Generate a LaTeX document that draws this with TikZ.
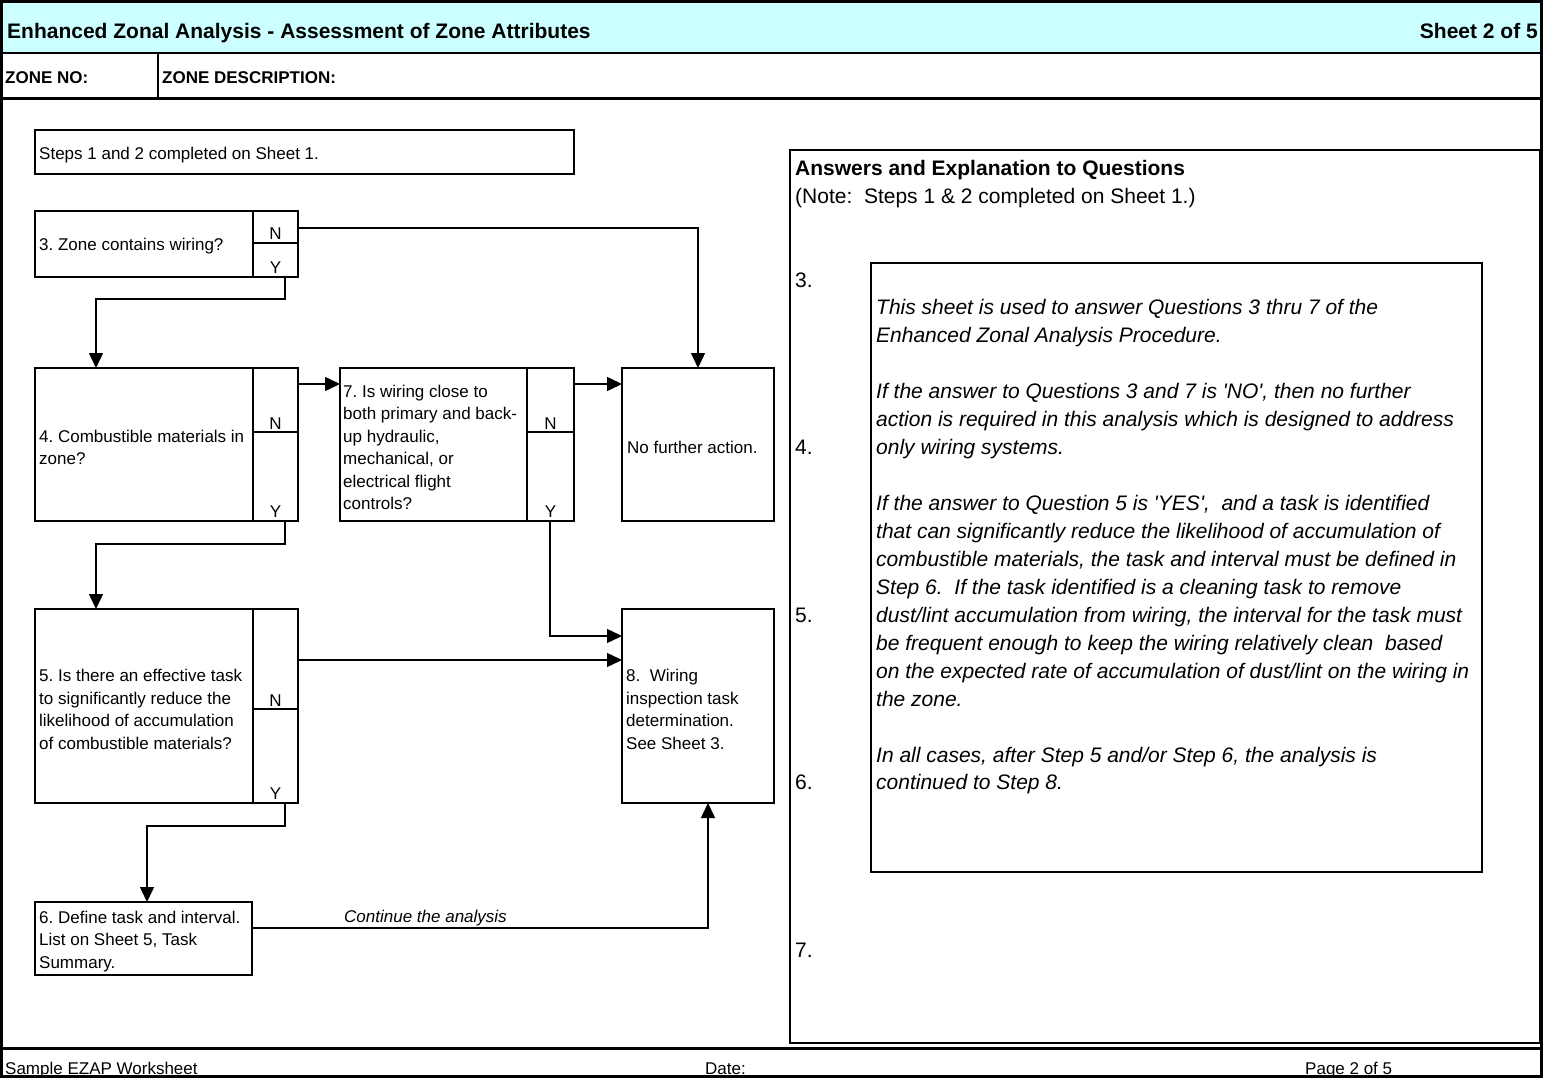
\documentclass[tikz,border=0pt]{standalone}
\usepackage{fontspec}
\newfontfamily\af{Liberation Sans}
\usetikzlibrary{arrows.meta}
\definecolor{hdr}{HTML}{CCFFFF}
\begin{document}
\frenchspacing
\begin{tikzpicture}[x=1pt,y=-1pt,
  box/.style={draw, line width=2.2pt, inner sep=0pt, outer sep=0pt, anchor=north west},
  txt/.style={anchor=west, align=left, inner sep=0pt, font=\af\fontsize{17}{22.5}\selectfont},
  yn/.style={anchor=base, inner sep=0pt, font=\af\fontsize{17}{20}\selectfont},
  conn/.style={line width=1.5pt},
  arr/.style={conn, -{Triangle[length=15pt,width=14pt]}},
  rtxt/.style={anchor=base west, inner sep=0pt, font=\af\fontsize{21}{28}\selectfont},
  itxt/.style={anchor=base west, inner sep=0pt, font=\af\itshape\fontsize{21}{28}\selectfont},
  btxt/.style={anchor=base west, inner sep=0pt, font=\af\bfseries\fontsize{21}{28}\selectfont},
  ztxt/.style={anchor=base west, inner sep=0pt, font=\af\bfseries\fontsize{17}{20}\selectfont},
  ftxt/.style={anchor=base west, inner sep=0pt, font=\af\fontsize{17}{20}\selectfont},
  frame/.style={line width=3pt},
]
\useasboundingbox (0,0) rectangle (1543,1078);
\fill[white] (0,0) rectangle (1543,1078);
\fill[hdr] (2,2) rectangle (1541,53);

% header texts
\node[btxt] (title) at (7,38.5) {Enhanced Zonal Analysis - Assessment of Zone Attributes};
\node[btxt, anchor=base east] (sheet) at (1538,38.5) {Sheet 2 of 5};
\node[ztxt] (zno) at (5,83.5) {ZONE NO:};
\node[ztxt] (zdesc) at (162,83.5) {ZONE DESCRIPTION:};

% footer texts
\node[ftxt] (fl) at (5,1074) {Sample EZAP Worksheet};
\node[ftxt] (fd) at (705,1074) {Date:};
\node[ftxt] (fp) at (1305,1074) {Page 2 of 5};

% flowchart boxes
\node[box, minimum width=539, minimum height=44] (steps) at (35,130) {};
\node[txt] (tsteps) at (39,155) {Steps 1 and 2 completed on Sheet 1.};

\node[box, minimum width=218, minimum height=66] (b3) at (35,211) {};
\node[box, minimum width=45, minimum height=32] (c3n) at (253,211) {};
\node[box, minimum width=45, minimum height=34] (c3y) at (253,243) {};
\node[txt] (t3) at (39,246) {3. Zone contains wiring?};
\node[yn] (l3n) at (275.5,240) {N};
\node[yn] (l3y) at (275.5,273) {Y};

\node[box, minimum width=218, minimum height=153] (b4) at (35,368) {};
\node[box, minimum width=45, minimum height=64] (c4n) at (253,368) {};
\node[box, minimum width=45, minimum height=89] (c4y) at (253,432) {};
\node[txt] (t4) at (39,447.5) {4. Combustible materials in\\zone?};
\node[yn] (l4n) at (275.5,429) {N};
\node[yn] (l4y) at (275.5,517) {Y};

\node[box, minimum width=187, minimum height=153] (b7) at (340,368) {};
\node[box, minimum width=47, minimum height=64] (c7n) at (527,368) {};
\node[box, minimum width=47, minimum height=89] (c7y) at (527,432) {};
\node[txt] (t7) at (343,447.5) {7. Is wiring close to\\both primary and back-\\up hydraulic,\\mechanical, or\\electrical flight\\controls?};
\node[yn] (l7n) at (550.5,429) {N};
\node[yn] (l7y) at (550.5,517) {Y};

\node[box, minimum width=152, minimum height=153] (nf) at (622,368) {};
\node[txt] (tnf) at (627,447.5) {No further action.};

\node[box, minimum width=218, minimum height=194] (b5) at (35,609) {};
\node[box, minimum width=45, minimum height=100] (c5n) at (253,609) {};
\node[box, minimum width=45, minimum height=94] (c5y) at (253,709) {};
\node[txt] (t5) at (39,709.5) {5. Is there an effective task\\to significantly reduce the\\likelihood of accumulation\\of combustible materials?};
\node[yn] (l5n) at (275.5,706) {N};
\node[yn] (l5y) at (275.5,799) {Y};

\node[box, minimum width=152, minimum height=194] (b8) at (622,609) {};
\node[txt] (t8) at (626,709.5) {8.\ \ Wiring\\inspection task\\determination.\\See Sheet 3.};

\node[box, minimum width=217, minimum height=73] (b6) at (35,902) {};
\node[txt] (t6) at (39,941.5) {6. Define task and interval.\\List on Sheet 5, Task\\Summary.};

% connector points
\coordinate (n3) at (298,228);
\coordinate (y3) at (285,277);
\coordinate (j3) at (96,299);
\coordinate (n4) at (298,384);
\coordinate (n7) at (574,384);
\coordinate (y4) at (285,521);
\coordinate (j4) at (96,544);
\coordinate (y7) at (550,521);
\coordinate (j7) at (550,636);
\coordinate (n5) at (298,660);
\coordinate (y5) at (285,803);
\coordinate (j5) at (147,826);
\coordinate (o6) at (252,928);
\coordinate (j6) at (708,928);

\draw[arr] (n3) -| (nf.north);
\draw[arr] (y3) |- (j3) -- (j3 |- b4.north);
\draw[arr] (n4) -- (n4 -| b7.west);
\draw[arr] (n7) -- (n7 -| nf.west);
\draw[arr] (y4) |- (j4) -- (j4 |- b5.north);
\draw[arr] (y7) -- (j7) -- (j7 -| b8.west);
\draw[arr] (n5) -- (n5 -| b8.west);
\draw[arr] (y5) |- (j5) -- (j5 |- b6.north);
\draw[arr] (o6) -- (j6) -- (j6 |- b8.south);
\node[anchor=base west, inner sep=0pt, font=\af\itshape\fontsize{17}{20}\selectfont] (cont) at (344,922) {Continue the analysis};

% right panel
\node[draw, line width=1.6pt, inner sep=0pt, outer sep=0pt, anchor=north west, minimum width=750, minimum height=893] (panel) at (790,150) {};
\node[draw, line width=1.8pt, inner sep=0pt, outer sep=0pt, anchor=north west, minimum width=611, minimum height=609] (expl) at (871,263) {};
\node[btxt] (ph) at (795,175.5) {Answers and Explanation to Questions};
\node[rtxt] (pn) at (795,203.5) {(Note:\ \ Steps 1 \& 2 completed on Sheet 1.)};
\node[rtxt] (q3) at (795,287.5) {3.};
\node[rtxt] (q4) at (795,454.5) {4.};
\node[rtxt] (q5) at (795,622.5) {5.};
\node[rtxt] (q6) at (795,789.5) {6.};
\node[rtxt] (q7) at (795,957.5) {7.};

\node[itxt] (i1) at (876,314.5) {This sheet is used to answer Questions 3 thru 7 of the};
\node[itxt] (i2) at (876,342.5) {Enhanced Zonal Analysis Procedure.};
\node[itxt] (i3) at (876,398.5) {If the answer to Questions 3 and 7 is 'NO', then no further};
\node[itxt] (i4) at (876,426.5) {action is required in this analysis which is designed to address};
\node[itxt] (i5) at (876,454.5) {only wiring systems.};
\node[itxt] (i6) at (876,510.5) {If the answer to Question 5 is 'YES',\ \ and a task is identified};
\node[itxt] (i7) at (876,538.5) {that can significantly reduce the likelihood of accumulation of};
\node[itxt] (i8) at (876,566.5) {combustible materials, the task and interval must be defined in};
\node[itxt] (i9) at (876,594.5) {Step 6.\ \ If the task identified is a cleaning task to remove};
\node[itxt] (i10) at (876,622.5) {dust/lint accumulation from wiring, the interval for the task must};
\node[itxt] (i11) at (876,650.5) {be frequent enough to keep the wiring relatively clean\ \ based};
\node[itxt] (i12) at (876,678.5) {on the expected rate of accumulation of dust/lint on the wiring in};
\node[itxt] (i13) at (876,706.5) {the zone.};
\node[itxt] (i14) at (876,762.5) {In all cases, after Step 5 and/or Step 6, the analysis is};
\node[itxt] (i15) at (876,789.5) {continued to Step 8.};

% frame lines
\draw[line width=2.5pt] (0,53) -- (1543,53);
\draw[frame] (0,98.5) -- (1543,98.5);
\draw[line width=2pt] (158,53) -- (158,98.5);
\draw[line width=1.8pt] (790,1043) -- (1541,1043);
\draw[frame] (0,1048.5) -- (1543,1048.5);
\draw[frame] (0,1.5) -- (1543,1.5);
\draw[frame] (0,1076.5) -- (1543,1076.5);
\draw[frame] (1.8,0) -- (1.8,1078);
\draw[frame] (1541.5,0) -- (1541.5,1078);
\end{tikzpicture}
\end{document}
